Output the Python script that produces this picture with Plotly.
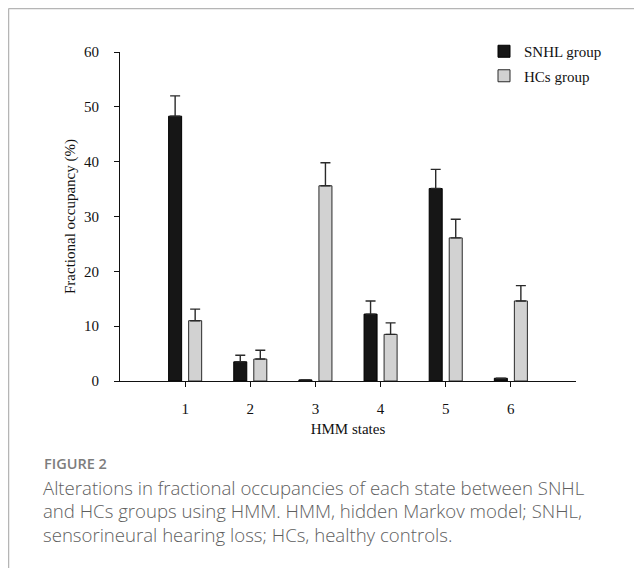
import plotly.graph_objects as go

states = [1, 2, 3, 4, 5, 6]
tick_labels = ["1", "2", "3", "4", "5", "6"]
snhl_values = [48.3, 3.5, 0.2, 12.2, 35.1, 0.5]
snhl_err = [3.7, 1.2, None, 2.4, 3.5, None]
hcs_values = [11.0, 4.0, 35.6, 8.5, 26.1, 14.6]
hcs_err = [2.1, 1.6, 4.2, 2.1, 3.4, 2.8]

OFF = 8  # page body margin
W, H = 642 - OFF, 568 - OFF
# plot area in page pixels
L, R, T, B = 120, 576, 52, 381


def px(x):
    return (x - L) / (R - L)


def py(y):
    return (B - y) / (B - T)


serif = "Liberation Serif"
sans = "Open Sans"

fig = go.Figure()
fig.add_trace(go.Bar(
    x=states, y=snhl_values, name="SNHL group", legendgroup="a",
    marker=dict(color="#161616", line=dict(color="#000000", width=1)),
    error_y=dict(type="data", array=snhl_err, arrayminus=[0] * 6, symmetric=False,
                 color="#2a2a2a", thickness=1.4, width=5),
))
fig.add_trace(go.Bar(
    x=states, y=hcs_values, name="HCs group", legendgroup="b",
    marker=dict(color="#d2d2d2", line=dict(color="#2a2a2a", width=1)),
    error_y=dict(type="data", array=hcs_err, arrayminus=[0] * 6, symmetric=False,
                 color="#2a2a2a", thickness=1.4, width=5),
))

fig.update_layout(
    width=W, height=H,
    margin=dict(l=L - OFF, r=W - (R - OFF), t=T - OFF, b=H - (B - OFF), pad=0),
    paper_bgcolor="white", plot_bgcolor="white",
    font=dict(family=serif, size=15, color="#111111"),
    barmode="group", bargap=0.385, bargroupgap=0.35,
    showlegend=True,
    legend=dict(x=px(484), y=py(35), xanchor="left", yanchor="top",
                bgcolor="rgba(0,0,0,0)", font=dict(family=serif, size=15, color="#111111"),
                traceorder="grouped", tracegroupgap=2, itemwidth=30),
    xaxis=dict(range=[0, 7.0], tickmode="array", tickvals=states, ticktext=tick_labels,
               showline=True, linecolor="#111111", linewidth=1, ticks="outside",
               ticklen=5, tickcolor="#111111", tickwidth=1, showgrid=False, zeroline=False,
               ticklabelstandoff=9, tickfont=dict(size=15),
               title=dict(text="HMM states", font=dict(size=15), standoff=7)),
    yaxis=dict(range=[0, 60], tickvals=[0, 10, 20, 30, 40, 50, 60],
               showline=True, linecolor="#111111", linewidth=1, ticks="outside",
               ticklen=5, tickcolor="#111111", tickwidth=1, showgrid=False, zeroline=False,
               ticklabelstandoff=12, tickfont=dict(size=15),
               title=dict(text="Fractional occupancy (%)", font=dict(size=15), standoff=4)),
)

# card border (top and left edges)
fig.add_shape(type="line", xref="paper", yref="paper", x0=px(8.5), x1=px(660), y0=py(8.5), y1=py(8.5),
              line=dict(color="#b5b5b5", width=1.5))
fig.add_shape(type="line", xref="paper", yref="paper", x0=px(8.5), x1=px(8.5), y0=py(8.5), y1=py(600),
              line=dict(color="#b5b5b5", width=1.5))

# caption
fig.add_annotation(text="FIGURE 2", xref="paper", yref="paper", x=px(42), y=py(463),
                   xanchor="left", yanchor="middle", showarrow=False,
                   font=dict(family=sans, size=14.5, color="#7d7d7d", weight=600))
caption_lines = [
    "Alterations in fractional occupancies of each state between SNHL",
    "and HCs groups using HMM. HMM, hidden Markov model; SNHL,",
    "sensorineural hearing loss; HCs, healthy controls.",
]
for i, line in enumerate(caption_lines):
    fig.add_annotation(text=line, xref="paper", yref="paper", x=px(41), y=py(487 + 23.5 * i),
                       xanchor="left", yanchor="middle", showarrow=False,
                       font=dict(family=sans, size=18.6, color="#5e5e5e", weight=300))

fig.write_html("out.html")
